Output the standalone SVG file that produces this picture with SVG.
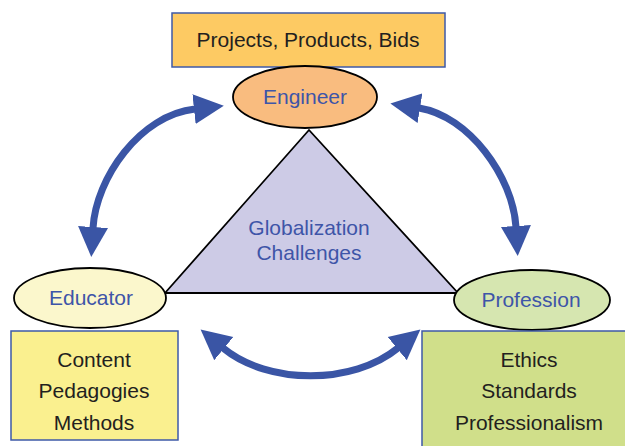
<svg xmlns="http://www.w3.org/2000/svg" width="625" height="446" viewBox="0 0 625 446">
  <defs>
    <marker id="head" markerUnits="userSpaceOnUse" markerWidth="31" markerHeight="32" viewBox="0 -16 31 32" refX="1" refY="0" orient="auto-start-reverse">
      <path d="M0,-15 L30,0 L0,15 z" fill="#3A55A5"/>
    </marker>
    <style>
      text { font-family: "Liberation Sans", Arial, sans-serif; font-size: 21px; text-anchor: middle; }
      .dark { fill: #231F20; }
      .blue { fill: #3E55A8; }
      .box { stroke: #3E5AA8; stroke-width: 1.5; }
      .node { stroke: #000; stroke-width: 1.8; }
      .arc { fill: none; stroke: #3A55A5; stroke-width: 7; marker-start: url(#head); marker-end: url(#head); }
    </style>
  </defs>
  <rect width="625" height="446" fill="#fff"/>

  <!-- central triangle -->
  <g id="globalization">
    <polygon points="309,130 165,293 458,293" fill="#CDCBE6" stroke="#000" stroke-width="1.8" stroke-linejoin="miter"/>
    <text class="blue" x="309" y="235">Globalization</text>
    <text class="blue" x="309" y="260">Challenges</text>
  </g>

  <!-- two-way arcs between the roles -->
  <g id="connectors">
    <path class="arc" d="M93,228 C96,178 140,115 195,109"/>
    <path class="arc" d="M419,108 C469,116 513,177 516,227"/>
    <path class="arc" d="M223,348 C268,385 353,385 398,348"/>
  </g>

  <g id="outputs">
    <rect class="box" x="172" y="13" width="273" height="54" fill="#FDCA63"/>
    <text class="dark" x="308" y="47">Projects, Products, Bids</text>
  </g>

  <g id="engineer">
    <ellipse class="node" cx="305" cy="97" rx="72" ry="31" fill="#F9BC7F"/>
    <text class="blue" x="305" y="104">Engineer</text>
  </g>

  <g id="educator">
    <ellipse class="node" cx="90" cy="298" rx="76" ry="30" fill="#FBF7CC"/>
    <text class="blue" x="91" y="305">Educator</text>
  </g>

  <g id="educator-topics">
    <rect class="box" x="11" y="331" width="167" height="109" fill="#FAF08F"/>
    <text class="dark" x="94" y="367">Content</text>
    <text class="dark" x="94" y="398">Pedagogies</text>
    <text class="dark" x="94" y="430">Methods</text>
  </g>

  <g id="profession">
    <ellipse class="node" cx="532" cy="300" rx="78" ry="30" fill="#D6E6B0"/>
    <text class="blue" x="531" y="307">Profession</text>
  </g>

  <g id="profession-topics">
    <rect class="box" x="422" y="331" width="210" height="120" fill="#D0DF8A"/>
    <text class="dark" x="529" y="367">Ethics</text>
    <text class="dark" x="529" y="398">Standards</text>
    <text class="dark" x="529" y="430">Professionalism</text>
  </g>
</svg>
